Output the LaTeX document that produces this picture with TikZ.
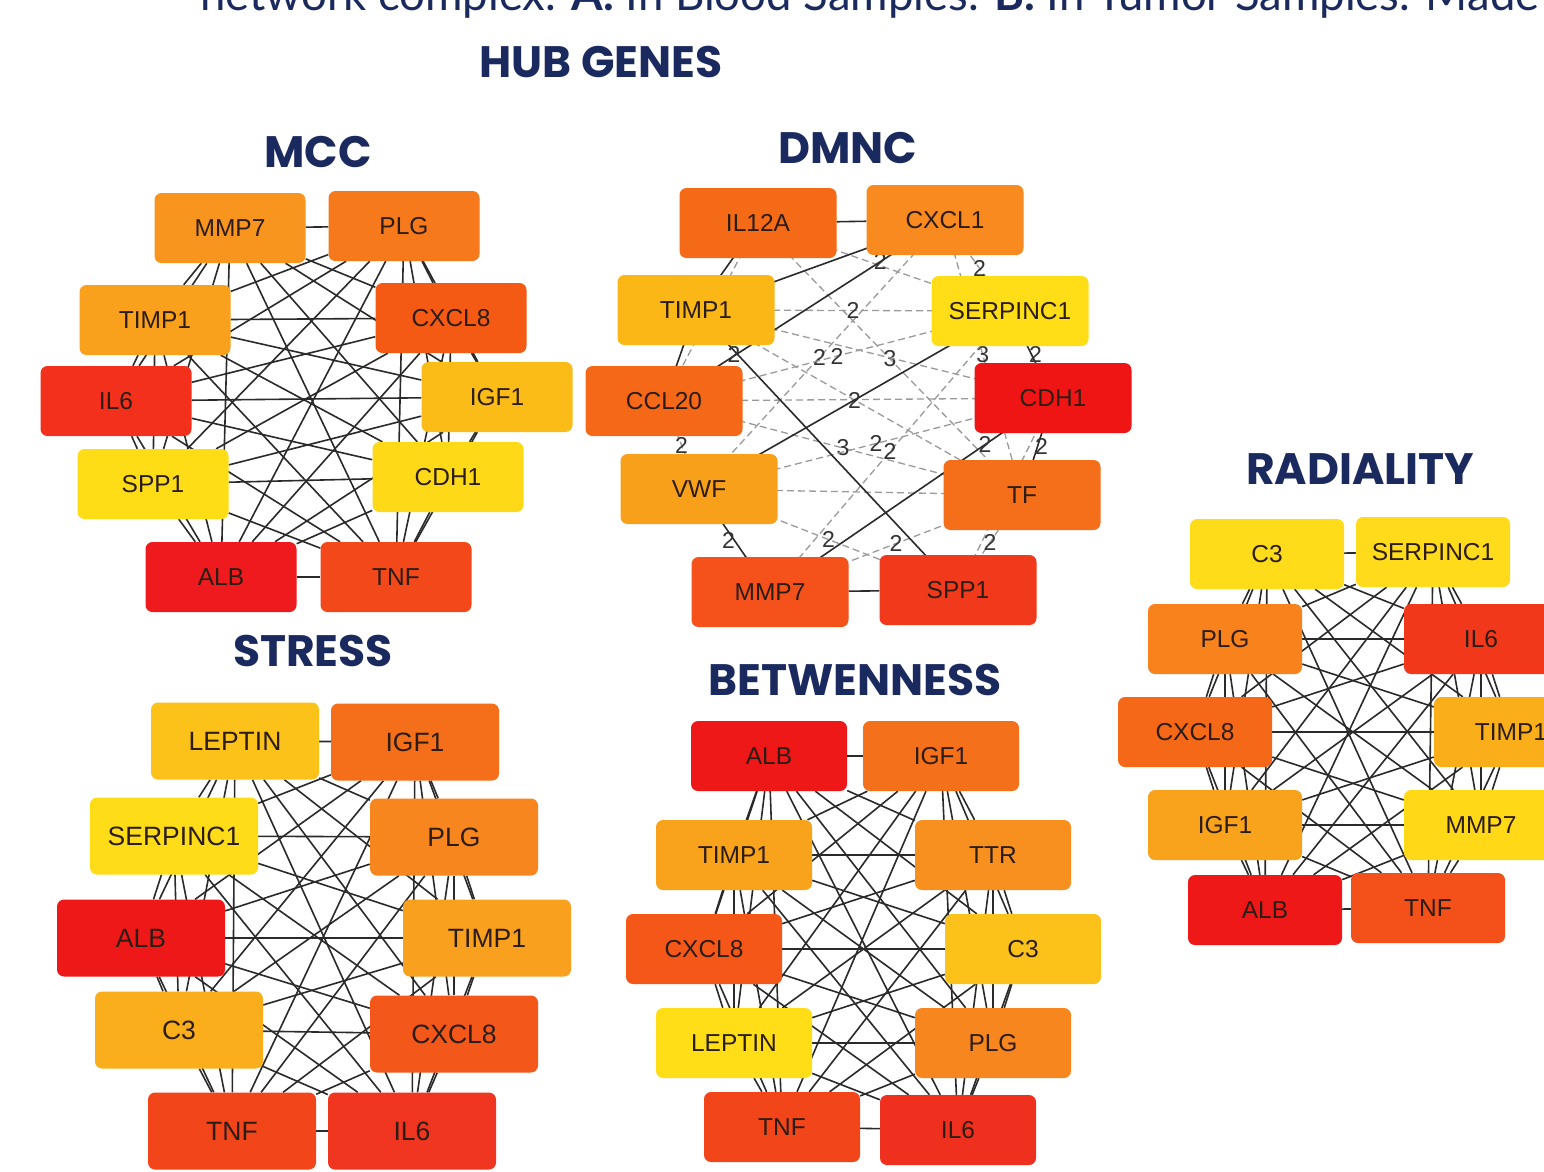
\documentclass[tikz,border=0pt]{standalone}
\usepackage{fontspec}
\setmainfont{Liberation Sans}
\newfontfamily\titlefont{Poppins}
\newfontfamily\capfont{Lato}
\pgfdeclarelayer{bgfill}
\pgfdeclarelayer{background}
\pgfsetlayers{bgfill,background,main}
\definecolor{navy}{HTML}{1B2A5E}
\definecolor{txt}{HTML}{2B1D14}
\definecolor{edgec}{HTML}{2A2A2A}
\definecolor{dashc}{HTML}{9A9A9A}
\newcommand\hexcol[1]{\definecolor{h#1}{HTML}{#1}}
\hexcol{F8951E}\hexcol{F6791B}\hexcol{F9A11C}\hexcol{F45A14}\hexcol{F2301B}
\hexcol{FBBC17}\hexcol{FEDD17}\hexcol{FED917}\hexcol{EF1A1D}\hexcol{F3481A}
\hexcol{F46A16}\hexcol{F88A1F}\hexcol{FBB716}\hexcol{FFDE17}\hexcol{F46817}
\hexcol{F01515}\hexcol{F9A01B}\hexcol{F56E1A}\hexcol{F4521A}\hexcol{F13A1C}
\hexcol{FFDC1A}\hexcol{FFDB1C}\hexcol{F8831D}\hexcol{F1381A}\hexcol{FAAF1A}
\hexcol{F9A21C}\hexcol{FFD818}\hexcol{EF1818}\hexcol{F4501A}\hexcol{FCC21A}
\hexcol{FFDC18}\hexcol{F8861E}\hexcol{F9A01E}\hexcol{FAAE1C}\hexcol{F4571A}
\hexcol{F24519}\hexcol{F03520}\hexcol{F5701A}\hexcol{F89020}\hexcol{F45718}
\hexcol{F0301E}
\newcommand\mkclique[1]{%
  \foreach \u [count=\iu] in {#1}{%
    \foreach \v [count=\iv] in {#1}{%
      \ifnum\iv>\iu\relax \draw[edge] (\u) -- (\v);\fi
    }}}
\begin{document}
\begin{tikzpicture}[x=1pt,y=-1pt,
  gnode/.style={rectangle, rounded corners=7pt, minimum width=151pt, minimum height=70pt,
     inner sep=0pt, text=txt, font=\fontsize{24.5}{24.5}\selectfont, fill=h#1},
  dnode/.style={gnode=#1, minimum width=157pt},
  rnode/.style={gnode=#1, minimum width=154pt},
  snode/.style={gnode=#1, minimum width=168pt, minimum height=77pt, font=\fontsize{26.5}{26.5}\selectfont},
  bnode/.style={gnode=#1, minimum width=156pt},
  title/.style={text=navy, font=\titlefont\bfseries\fontsize{44}{44}\selectfont, inner sep=0pt},
  edge/.style={draw=edgec, line width=1.6pt},
  dedge/.style={draw=dashc, line width=1.3pt, dash pattern=on 7pt off 4pt},
  elabel/.style={text=black!80, font=\fontsize{23}{23}\selectfont, inner sep=0pt}
]
\useasboundingbox (0,0) rectangle (1544,1171);
\clip (0,0) rectangle (1544,1171);
\begin{pgfonlayer}{bgfill}
\fill[white] (0,0) rectangle (1544,1171);
\end{pgfonlayer}

% caption fragment at the top
\node[anchor=base west, inner sep=0pt, text=navy, font=\capfont\fontsize{45.5}{45.5}\selectfont] (cap) at (200,10)
  {network complex. \textbf{A.} In Blood Samples. \textbf{B.} In Tumor Samples. Made};

% titles
\node[title] (thub) at (601,62) {HUB GENES};
\node[title] (tmcc) at (318,152) {MCC};
\node[title] (tdmnc) at (848,148) {DMNC};
\node[title] (trad) at (1360,469) {RADIALITY};
\node[title] (tstress) at (313,651) {STRESS};
\node[title] (tbet) at (855,680) {BETWENNESS};

% ---------------- MCC
\node[gnode=F8951E] (mMMP7) at (230,228) {MMP7};
\node[gnode=F6791B] (mPLG) at (404,226) {PLG};
\node[gnode=F9A11C] (mTIMP1) at (155,320) {TIMP1};
\node[gnode=F45A14] (mCXCL8) at (451,318) {CXCL8};
\node[gnode=F2301B] (mIL6) at (116,401) {IL6};
\node[gnode=FBBC17] (mIGF1) at (497,397) {IGF1};
\node[gnode=FEDD17] (mSPP1) at (153,484) {SPP1};
\node[gnode=FED917] (mCDH1) at (448,477) {CDH1};
\node[gnode=EF1A1D] (mALB) at (221,577) {ALB};
\node[gnode=F3481A] (mTNF) at (396,577) {TNF};

% ---------------- DMNC
\node[dnode=F46A16] (dIL12A) at (758,223) {IL12A};
\node[dnode=F88A1F] (dCXCL1) at (945,220) {CXCL1};
\node[dnode=FBB716] (dTIMP1) at (696,310) {TIMP1};
\node[dnode=FFDE17] (dSERPINC1) at (1010,311) {SERPINC1};
\node[dnode=F46817] (dCCL20) at (664,401) {CCL20};
\node[dnode=F01515] (dCDH1) at (1053,398) {CDH1};
\node[dnode=F9A01B] (dVWF) at (699,489) {VWF};
\node[dnode=F56E1A] (dTF) at (1022,495) {TF};
\node[dnode=F4521A] (dMMP7) at (770,592) {MMP7};
\node[dnode=F13A1C] (dSPP1) at (958,590) {SPP1};

% ---------------- RADIALITY
\node[rnode=FFDC1A] (rC3) at (1267,554) {C3};
\node[rnode=FFDB1C] (rSERPINC1) at (1433,552) {SERPINC1};
\node[rnode=F8831D] (rPLG) at (1225,639) {PLG};
\node[rnode=F1381A] (rIL6) at (1481,639) {IL6};
\node[rnode=F46817] (rCXCL8) at (1195,732) {CXCL8};
\node[rnode=FAAF1A] (rTIMP1) at (1511,732) {TIMP1};
\node[rnode=F9A21C] (rIGF1) at (1225,825) {IGF1};
\node[rnode=FFD818] (rMMP7) at (1481,825) {MMP7};
\node[rnode=EF1818] (rALB) at (1265,910) {ALB};
\node[rnode=F4501A] (rTNF) at (1428,908) {TNF};

% ---------------- STRESS
\node[snode=FCC21A] (sLEPTIN) at (235,741) {LEPTIN};
\node[snode=F56E1A] (sIGF1) at (415,742) {IGF1};
\node[snode=FFDC18] (sSERPINC1) at (174,836) {SERPINC1};
\node[snode=F8861E] (sPLG) at (454,837) {PLG};
\node[snode=EF1818] (sALB) at (141,938) {ALB};
\node[snode=F9A01E] (sTIMP1) at (487,938) {TIMP1};
\node[snode=FAAE1C] (sC3) at (179,1030) {C3};
\node[snode=F4571A] (sCXCL8) at (454,1034) {CXCL8};
\node[snode=F24519] (sTNF) at (232,1131) {TNF};
\node[snode=F03520] (sIL6) at (412,1131) {IL6};

% ---------------- BETWENNESS
\node[bnode=EF1818] (bALB) at (769,756) {ALB};
\node[bnode=F5701A] (bIGF1) at (941,756) {IGF1};
\node[bnode=F9A21C] (bTIMP1) at (734,855) {TIMP1};
\node[bnode=F89020] (bTTR) at (993,855) {TTR};
\node[bnode=F45718] (bCXCL8) at (704,949) {CXCL8};
\node[bnode=FCC21A] (bC3) at (1023,949) {C3};
\node[bnode=FFDE17] (bLEPTIN) at (734,1043) {LEPTIN};
\node[bnode=F8861E] (bPLG) at (993,1043) {PLG};
\node[bnode=F24519] (bTNF) at (782,1127) {TNF};
\node[bnode=F0301E] (bIL6) at (958,1130) {IL6};

\begin{pgfonlayer}{background}
\mkclique{mMMP7,mPLG,mTIMP1,mCXCL8,mIL6,mIGF1,mSPP1,mCDH1,mALB,mTNF}
\mkclique{rC3,rSERPINC1,rPLG,rIL6,rCXCL8,rTIMP1,rIGF1,rMMP7,rALB,rTNF}
\mkclique{sLEPTIN,sIGF1,sSERPINC1,sPLG,sALB,sTIMP1,sC3,sCXCL8,sTNF,sIL6}
\mkclique{bALB,bIGF1,bTIMP1,bTTR,bCXCL8,bC3,bLEPTIN,bPLG,bTNF,bIL6}

% DMNC dashed edges (centre to centre, hidden under the boxes)
\draw[dedge] (dIL12A.center) -- (dSERPINC1.center);
\draw[dedge] (dIL12A.center) -- node[elabel, pos=.5] {3} (dTF.center);
\draw[dedge] (dIL12A.center) -- (dCCL20.center);
\draw[dedge] (dCXCL1.center) -- node[elabel, pos=.53] {2} (dSERPINC1.center);
\draw[dedge] (dCXCL1.center) -- node[elabel, pos=.51] {2} (dVWF.center);
\draw[dedge] (dCXCL1.center) -- node[elabel, pos=.49] {3} (dTF.center);
\draw[dedge] (dTIMP1.center) -- node[elabel, pos=.5] {2} (dSERPINC1.center);
\draw[dedge] (dTIMP1.center) -- (dCDH1.center);
\draw[dedge] (dTIMP1.center) -- (dTF.center);
\draw[dedge] (dCCL20.center) -- node[elabel, pos=.5] {2} (dSERPINC1.center);
\draw[dedge] (dCCL20.center) -- node[elabel, pos=.5] {3} (dTF.center);
\draw[dedge] (dCCL20.center) -- (dCDH1.center);
\draw[dedge] (dCCL20.center) -- node[elabel, pos=.5] {2} (dVWF.center);
\draw[dedge] (dVWF.center) -- node[elabel, pos=.5] {2} (dCDH1.center);
\draw[dedge] (dVWF.center) -- node[elabel, pos=.5] {2} (dSPP1.center);
\draw[dedge] (dVWF.center) -- (dTF.center);
\draw[dedge] (dMMP7.center) -- node[elabel, pos=.5] {2} (dSERPINC1.center);
\draw[dedge] (dMMP7.center) -- node[elabel, pos=.5] {2} (dTF.center);
\draw[dedge] (dSPP1.center) -- node[elabel, pos=.5] {2} (dTF.center);
\draw[dedge] (dSPP1.center) -- (dCDH1.center);
% DMNC solid edges
\draw[edge] (dIL12A) -- (dCXCL1);
\draw[edge] (dIL12A.center) -- (dTIMP1.center);
\draw[edge] (dCXCL1.center) -- (dTIMP1.center);
\draw[edge] (dCXCL1.center) -- node[elabel, pos=.23] {2} (dCCL20.center);
\draw[edge] (dTIMP1.center) -- (dCCL20.center);
\draw[edge] (dTIMP1.center) -- node[elabel, pos=.16, xshift=-4pt] {2} (dSPP1.center);
\draw[edge] (dSERPINC1.center) -- node[elabel, pos=.5] {2} (dVWF.center);
\draw[edge] (dSERPINC1.center) -- node[elabel, pos=.5, xshift=4pt] {2} (dCDH1.center);
\draw[edge] (dCDH1.center) -- node[elabel, pos=.24] {2} (dMMP7.center);
\draw[edge] (dCDH1.center) -- node[elabel, pos=.5, xshift=4pt] {2} (dTF.center);
\draw[edge] (dVWF.center) -- node[elabel, pos=.5, xshift=-6pt] {2} (dMMP7.center);
\draw[edge] (dMMP7) -- (dSPP1);
\end{pgfonlayer}
\end{tikzpicture}
\end{document}
